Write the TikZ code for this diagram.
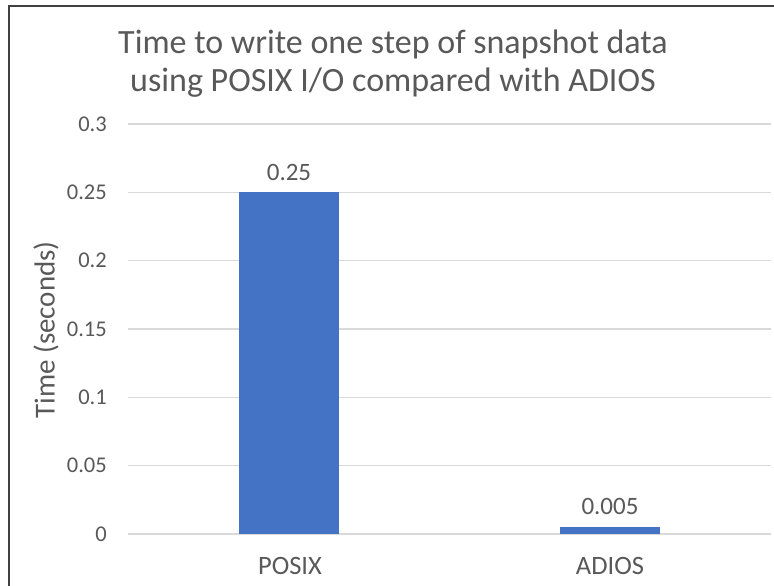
\documentclass[tikz,border=0pt]{standalone}
\usepackage{fontspec}
\setmainfont{Carlito}
\definecolor{txt}{HTML}{595959}
\definecolor{grid}{HTML}{D9D9D9}
\definecolor{bar}{HTML}{4472C4}
\definecolor{frame}{HTML}{404040}
\begin{document}
\begin{tikzpicture}[x=1pt,y=-1pt,
  ticklab/.style={anchor=east,text=txt,font=\fontsize{22.5}{26}\selectfont,inner sep=0pt},
  datalab/.style={text=txt,font=\fontsize{25}{28}\selectfont,inner sep=0pt},
  catlab/.style={text=txt,font=\fontsize{26.5}{30}\selectfont,inner sep=0pt},
  gridline/.style={draw=grid,line width=1.2pt},
  barbox/.style={fill=bar,draw=none}]
\useasboundingbox (0,0) rectangle (774,586);
\fill[white] (0,0) rectangle (774,586);
\draw[frame,line width=2pt] (9,600) -- (9,6) -- (780,6);
% title
\node[text=txt,font=\fontsize{34}{38}\selectfont,align=center,inner sep=0pt] (title) at (393,64)
  {Time to write one step of snapshot data\\using POSIX I/O compared with ADIOS};
% grid and tick labels
\foreach \v/\lab [count=\i] in {0/0,0.05/0.05,0.1/0.1,0.15/0.15,0.2/0.2,0.25/0.25,0.3/0.3}{
  \pgfmathsetmacro{\yy}{534-\v*1366.7}
  \coordinate (gl\i) at (128,\yy);
  \coordinate (gr\i) at (771,\yy);
  \draw[gridline] (gl\i) -- (gr\i);
  \node[ticklab] (tick\i) at (107,\yy) {\lab};
}
% bars
\draw[barbox] (239,534) rectangle (339,192.3);
\draw[barbox] (560,534) rectangle (660,527.2);
\node[datalab] (v1) at (289,172) {0.25};
\node[datalab] (v2) at (610,506) {0.005};
\node[catlab] (c1) at (290,566) {POSIX};
\node[catlab] (c2) at (610,566) {ADIOS};
% axis title
\node[text=txt,font=\fontsize{29}{34}\selectfont,rotate=90,inner sep=0pt] (ytitle) at (46,330) {Time (seconds)};
\end{tikzpicture}
\end{document}
